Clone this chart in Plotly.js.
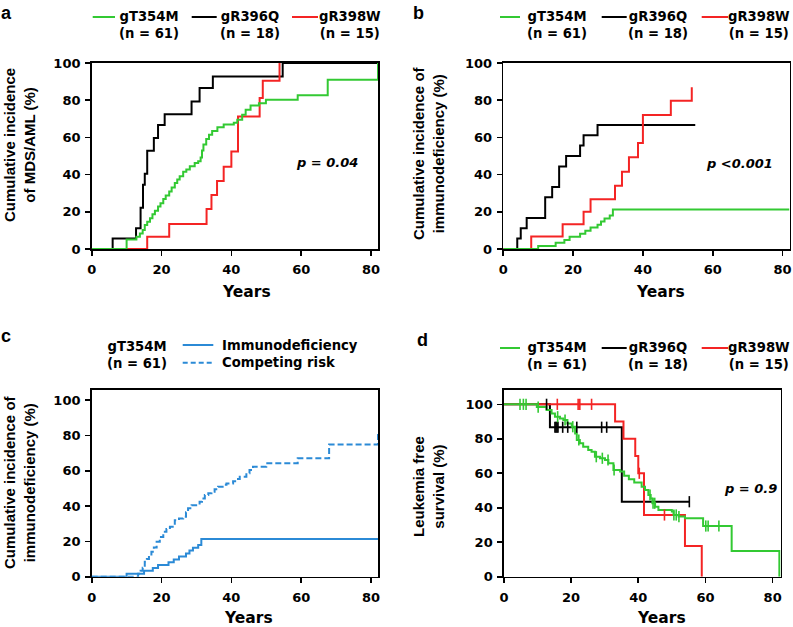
<!DOCTYPE html>
<html><head><meta charset="utf-8">
<script src="https://cdn.plot.ly/plotly-3.0.1.min.js"></script>
<style>html,body{margin:0;padding:0;background:#fff}#chart{width:793px;height:627px}</style>
</head><body><div id="chart"></div>
<script>
// ---------- Panel a: cumulative incidence of MDS/AML ----------
const aT354M_x = [0, 10, 12.8, 13.8, 14.6, 15.2, 15.9, 16.7, 17.4, 18.1, 19.0, 19.7, 20.5, 21.2, 22.2, 22.9, 23.8, 24.5, 25.2, 26.2, 27.1, 28.1, 29.5, 30.5, 31.2, 31.6, 32.0, 32.8, 33.6, 34.5, 36.0, 37.8, 40.7, 41.7, 43.1, 44.1, 45.5, 47.9, 49.9, 59.0, 67.6, 82];
const aT354M_y = [0, 5.1, 6.6, 8.4, 10.2, 12.9, 14.7, 16.5, 18.7, 20.5, 22.8, 24.6, 26.9, 28.7, 30.9, 33.0, 35.5, 37.3, 39.1, 41.5, 42.7, 44.5, 46.3, 47.2, 49.2, 53.0, 56.2, 59.2, 61.4, 63.5, 65.4, 66.9, 67.9, 69.5, 72.2, 74.9, 77.2, 78.4, 80.2, 82.6, 91.0, 100];
const aR396Q_x = [0, 6, 12.7, 14, 14.7, 15.2, 15.9, 17.8, 19, 20.9, 28.6, 30.9, 34.7, 54.7, 82];
const aR396Q_y = [0, 5.6, 11.1, 22.2, 34.5, 40.5, 52.8, 59.7, 66.7, 72.5, 79.3, 86.5, 92.8, 100, 100];
const aR398W_x = [0, 15.9, 22.2, 32.9, 34.3, 35.9, 37.8, 40.0, 41.9, 48.1, 49.0, 53.8];
const aR398W_y = [0, 6.6, 13.4, 21.5, 29.0, 36.6, 44.2, 52.4, 71.3, 81.2, 90.5, 100];

// ---------- Panel b: cumulative incidence of immunodeficiency ----------
const bT354M_x = [0, 10, 15, 17.5, 19, 22, 23.5, 25, 27, 28, 29, 30.5, 31.4, 82];
const bT354M_y = [0, 1.6, 3.3, 4.9, 6.6, 8.2, 9.8, 11.5, 13.1, 14.8, 16.4, 18.0, 21.3, 21.3];
const bR396Q_x = [0, 4, 5, 6.7, 12, 14, 16, 18, 22, 23, 27, 55];
const bR396Q_y = [0, 5.6, 11.1, 16.7, 27.8, 33.3, 44.4, 50, 55.6, 61.1, 66.7, 66.7];
const bR398W_x = [0, 8, 17, 23, 25, 32, 34, 36, 38.6, 40, 48, 54];
const bR398W_y = [0, 6.7, 13.3, 20, 26.7, 34, 41.5, 49.3, 57, 72, 79.7, 86.9];

// ---------- Panel c: gT354M immunodeficiency vs competing risk ----------
const cImmuno_x = [0, 10, 15, 17.5, 19, 22, 23.5, 25, 27, 28, 29, 30.5, 31.4, 82];
const cImmuno_y = [0, 1.6, 3.3, 4.9, 6.6, 8.2, 9.8, 11.5, 13.1, 14.8, 16.4, 18.0, 21.3, 21.3];
const cCompeting_x = [0, 13.3, 14, 14.6, 15.2, 15.8, 16.4, 17.1, 17.8, 18.6, 19.5, 20.5, 21.4, 22.4, 23.8, 25, 26.2, 27, 27.6, 28.6, 30.9, 31.6, 32.4, 33.4, 34.3, 35.2, 36.2, 37.5, 38.6, 40.5, 41.5, 42.4, 44.3, 45.2, 46.2, 50, 59, 68, 82];
const cCompeting_y = [0, 1.6, 3.3, 5, 8.4, 10, 12, 14.1, 16.5, 19.8, 22.5, 25.4, 27, 28.3, 32, 33, 33.9, 36.5, 38.7, 40.5, 42.4, 44.3, 46.2, 47.2, 48.1, 49.5, 50.9, 52, 52.8, 54.1, 55.3, 56.6, 58.5, 60.4, 62.3, 64.2, 67, 74.8, 81.2];

// ---------- Panel d: leukemia free survival ----------
const dT354M_x = [0, 9.8, 12.7, 14.2, 15.2, 16.7, 17.7, 18.9, 20.2, 21.2, 21.7, 22.6, 23.6, 25.1, 26.1, 27.1, 28.6, 30.1, 31.1, 32.6, 34.6, 35.8, 37.2, 38.8, 41.0, 42.0, 43.0, 43.7, 44.2, 45.0, 46.0, 50.0, 50.5, 52.0, 53.9, 59.3, 67.8, 82];
const dT354M_y = [100, 98.4, 96.7, 94.7, 92.8, 91.8, 90.9, 88.9, 87, 83.1, 79.3, 77.4, 75.4, 73.5, 72.5, 69.6, 68.7, 67.7, 65.8, 61.9, 61, 58.5, 56.5, 54.6, 52.2, 50.3, 47.4, 45.4, 42.6, 40.6, 38.7, 37.8, 35.8, 34.9, 33.9, 29.4, 14.9, 0];
const dT354M_censor = [4.8, 5.8, 6.6, 10.2, 16, 18.2, 20.5, 22.3, 27.5, 29.3, 31, 32.8, 43.5, 44.4, 44.9, 50.6, 51.3, 52.1, 60.1, 60.8, 64];
const dR396Q_x = [0, 13.7, 35.1, 55.2];
const dR396Q_y = [100, 86.7, 43.5, 43.5];
const dR396Q_censor = [12.7, 15.2, 15.5, 15.8, 16.1, 17.5, 19, 21.7, 29.1, 30.6, 55.2];
const dR398W_x = [0, 33.1, 35.6, 39.1, 40.0, 41.7, 53.9, 58.9];
const dR398W_y = [100, 90, 80, 70, 60, 35.8, 17.8, 0];
const dR398W_censor = [15.9, 22.1, 22.6, 26.1, 40.3, 47.8];

// ---------- labels ----------
const groupNames = ['gT354M', 'gR396Q', 'gR398W'];
const groupN = ['(n = 61)', '(n = 18)', '(n = 15)'];
const xTicks = [0, 20, 40, 60, 80];
const yTicks = [0, 20, 40, 60, 80, 100];

const W = 793, H = 627;
const px = v => v / W, py = v => 1 - v / H;
const GREEN = '#33c933', BLACK = '#000000', RED = '#f42424', BLUE = '#2b8ad6';
const groupColors = [GREEN, BLACK, RED];

function stepAt(xs, ys, t) { let v = ys[0]; for (let i = 0; i < xs.length; i++) { if (xs[i] <= t) v = ys[i]; } return v; }
function line(x, y, color, n, dash) {
  return { x: x, y: y, mode: 'lines', line: { shape: 'hv', color: color, width: 2, dash: dash || 'solid' },
    xaxis: 'x' + (n > 1 ? n : ''), yaxis: 'y' + (n > 1 ? n : ''), hoverinfo: 'skip', showlegend: false };
}
function censor(ts, xs, ys, color, n) {
  return { x: ts, y: ts.map(t => stepAt(xs, ys, t)), mode: 'markers', cliponaxis: false,
    marker: { symbol: 'line-ns-open', size: 8, color: color, line: { width: 1.6, color: color } },
    xaxis: 'x' + (n > 1 ? n : ''), yaxis: 'y' + (n > 1 ? n : ''), hoverinfo: 'skip', showlegend: false };
}

const traces = [
  line(aR396Q_x, aR396Q_y, BLACK, 1), line(aR398W_x, aR398W_y, RED, 1), line(aT354M_x, aT354M_y, GREEN, 1),
  line(bR396Q_x, bR396Q_y, BLACK, 2), line(bR398W_x, bR398W_y, RED, 2), line(bT354M_x, bT354M_y, GREEN, 2),
  line(cCompeting_x, cCompeting_y, BLUE, 3, '6px,3px'), line(cImmuno_x, cImmuno_y, BLUE, 3),
  line(dR396Q_x, dR396Q_y, BLACK, 4), line(dR398W_x, dR398W_y, RED, 4), line(dT354M_x, dT354M_y, GREEN, 4),
  censor(dR396Q_censor, dR396Q_x, dR396Q_y, BLACK, 4),
  censor(dR398W_censor, dR398W_x, dR398W_y, RED, 4),
  censor(dT354M_censor, dT354M_x, dT354M_y, GREEN, 4)
];

const tickFont = { family: 'DejaVu Sans', size: 13, weight: 'bold', color: '#000' };
function xax(dom, range, anchor) {
  return { domain: dom, range: range, anchor: anchor, showline: true, mirror: true, linecolor: '#000', linewidth: 1.6,
    ticks: 'outside', ticklen: 5, tickwidth: 1.6, tickcolor: '#000', tickvals: xTicks, ticktext: xTicks.map(String),
    tickfont: tickFont, ticklabelstandoff: 3, showgrid: false, zeroline: false, fixedrange: true, layer: 'below traces' };
}
function yax(dom, range, anchor) {
  return { domain: dom, range: range, anchor: anchor, showline: true, mirror: true, linecolor: '#000', linewidth: 1.6,
    ticks: 'outside', ticklen: 5, tickwidth: 1.6, tickcolor: '#000', tickvals: yTicks, ticktext: yTicks.map(String),
    tickfont: tickFont, ticklabelstandoff: 2, showgrid: false, zeroline: false, fixedrange: true, layer: 'below traces' };
}

const topY = [py(249), py(63)], botY = [py(576.7), py(390)];
const leftX = [px(91.7), px(378)];

const ann = [];
const shapes = [];
function txt(s, x, y, font, opts) {
  ann.push(Object.assign({ text: s, x: px(x), y: py(y), xref: 'paper', yref: 'paper', showarrow: false,
    xanchor: 'center', yanchor: 'middle', font: Object.assign({ color: '#000' }, font) }, opts || {}));
}
function sample(x0, x1, y, color, dash) {
  shapes.push({ type: 'line', xref: 'paper', yref: 'paper', x0: px(x0), x1: px(x1), y0: py(y), y1: py(y),
    line: { color: color, width: 2, dash: dash || 'solid' } });
}
const legFont = { family: 'DejaVu Sans', size: 13.2, weight: 'bold' };
const letterFont = { family: 'Liberation Sans', size: 18, weight: 'bold' };
const yTitleFont = { family: 'Liberation Sans', size: 15, weight: 'bold' };
const xTitleFont = { family: 'DejaVu Sans', size: 15.5, weight: 'bold' };
const pFont = { family: 'DejaVu Sans', size: 13, weight: 'bold', style: 'italic' };

// panel letters
txt('a', 6, 13, letterFont); txt('b', 418, 13, letterFont); txt('c', 6, 336, letterFont); txt('d', 422, 340, letterFont);

// legends a, b, d
const legA = { cx: [148.5, 249.8, 349.8], s0: [92.7, 191.7, 292], s1: [115, 216.7, 318], yc: 25, ys: 17 };
const legB = { cx: [556.7, 658, 759], s0: [500, 601.7, 701.7], s1: [520, 626.7, 728], yc: 25, ys: 17 };
const legD = { cx: [556.7, 658, 759], s0: [500, 601.7, 701.7], s1: [520, 626.7, 728], yc: 356, ys: 348 };
[legA, legB, legD].forEach(L => {
  for (let i = 0; i < 3; i++) {
    txt(groupNames[i] + '<br>' + groupN[i], L.cx[i], L.yc, legFont);
    sample(L.s0[i], L.s1[i], L.ys, groupColors[i]);
  }
});
// legend c
txt(groupNames[0] + '<br>' + groupN[0], 137, 355, legFont);
txt('Immunodeficiency', 220, 345, legFont, { xanchor: 'left' });
txt('Competing risk', 220, 362.7, legFont, { xanchor: 'left' });
sample(182.7, 213.3, 345, BLUE);
sample(182.7, 213.3, 362.7, BLUE, '5px,3px');

// axis titles
txt('Cumulative incidence<br>of MDS/AML (%)', 19, 145, yTitleFont, { textangle: -90 });
txt('Cumulative incidence of<br>immunodeficiency (%)', 428, 153, yTitleFont, { textangle: -90 });
txt('Cumulative incidence of<br>immunodeficiency (%)', 19, 482, yTitleFont, { textangle: -90 });
txt('Leukemia free<br>survival (%)', 428, 487, yTitleFont, { textangle: -90 });
txt('Years', 246.7, 291.7, xTitleFont); txt('Years', 660, 292, xTitleFont);
txt('Years', 248, 618, xTitleFont); txt('Years', 661, 618, xTitleFont);

// p values
txt('p = 0.04', 326.7, 162.3, pFont); txt('p <0.001', 739, 163, pFont); txt('p = 0.9', 750, 488.3, pFont);

const layout = {
  width: W, height: H, margin: { l: 0, r: 0, t: 0, b: 0 }, paper_bgcolor: '#fff', plot_bgcolor: '#fff',
  showlegend: false,
  xaxis: xax(leftX, [0, 82], 'y'), yaxis: yax(topY, [0, 100], 'x'),
  xaxis2: xax([px(503.3), px(789.5)], [0, 82], 'y2'), yaxis2: yax(topY, [0, 100], 'x2'),
  xaxis3: xax(leftX, [0, 82], 'y3'), yaxis3: yax(botY, [0, 105.7], 'x3'),
  xaxis4: xax([px(503.9), px(780.7)], [0, 82.4], 'y4'), yaxis4: yax(botY, [0, 108.3], 'x4'),
  annotations: ann, shapes: shapes
};
Plotly.newPlot('chart', traces, layout, { staticPlot: true, displayModeBar: false });
</script></body></html>
